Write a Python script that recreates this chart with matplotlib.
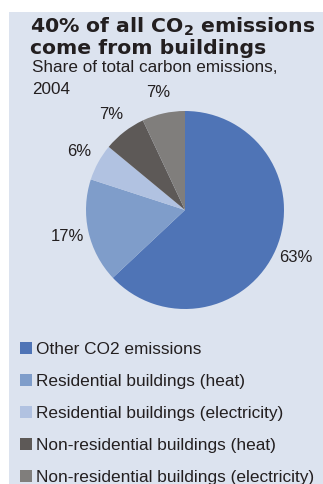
import matplotlib
matplotlib.use("Agg")
import matplotlib.pyplot as plt
from matplotlib.patches import Rectangle

# ------------------------------------------------------------
# Data
# ------------------------------------------------------------
categories = [
    "Other CO2 emissions",
    "Residential buildings (heat)",
    "Residential buildings (electricity)",
    "Non-residential buildings (heat)",
    "Non-residential buildings (electricity)",
]
shares = [63, 17, 6, 7, 7]
colors = ["#4f74b6", "#7f9dca", "#b1c2e1", "#5d5957", "#807e7c"]

title_lines = [r"40% of all CO$_\mathbf{2}$ emissions", "come from buildings"]
subtitle_lines = ["Share of total carbon emissions,", "2004"]

plt.rcParams["font.family"] = ["Liberation Sans", "DejaVu Sans"]

W, H = 323, 484
fig = plt.figure(figsize=(W / 100, H / 100), dpi=100, facecolor="white")

# light blue panel behind everything
fig.patches.append(Rectangle((9 / W, 0), 1, (H - 12) / H, transform=fig.transFigure,
                             facecolor="#dce3ef", edgecolor="none", zorder=-10))

# title + subtitle (y = baseline in px from top)
title_kw = dict(fontsize=14.7, fontweight="bold", family="DejaVu Sans",
                color="#231f20", va="baseline", ha="left")
fig.text(30 / W, 1 - 33 / H, title_lines[0], **title_kw)
fig.text(30 / W, 1 - 54 / H, title_lines[1], **title_kw)
sub_kw = dict(fontsize=12.3, color="#231f20", va="baseline", ha="left")
fig.text(32 / W, 1 - 72 / H, subtitle_lines[0], **sub_kw)
fig.text(32 / W, 1 - 94 / H, subtitle_lines[1], **sub_kw)

# ------------------------------------------------------------
# Pie
# ------------------------------------------------------------
cx, cy, r = 185, 210, 99
ax = fig.add_axes([(cx - r) / W, (H - cy - r) / H, 2 * r / W, 2 * r / H])
ax.set_facecolor("none")
wedges, texts = ax.pie(shares, colors=colors, startangle=90, counterclock=False,
                       labels=[f"{s}%" for s in shares], labeldistance=1.22,
                       wedgeprops=dict(linewidth=0),
                       textprops=dict(fontsize=12, color="#231f20"))
for t in texts:
    t.set_ha("center")
    t.set_va("center")
ax.set_xlim(-1, 1)
ax.set_ylim(-1, 1)
ax.set_aspect("equal")
ax.axis("off")

# ------------------------------------------------------------
# Legend
# ------------------------------------------------------------
fig.legend(wedges, categories, loc="upper left", bbox_to_anchor=(20 / W, 1 - 342 / H),
           frameon=False, fontsize=12.4, handlelength=0.7, handleheight=0.7,
           handletextpad=0.2, labelspacing=0.98, borderaxespad=0, borderpad=0,
           labelcolor="#231f20")

fig.savefig("out.png", dpi=100, facecolor="white")
